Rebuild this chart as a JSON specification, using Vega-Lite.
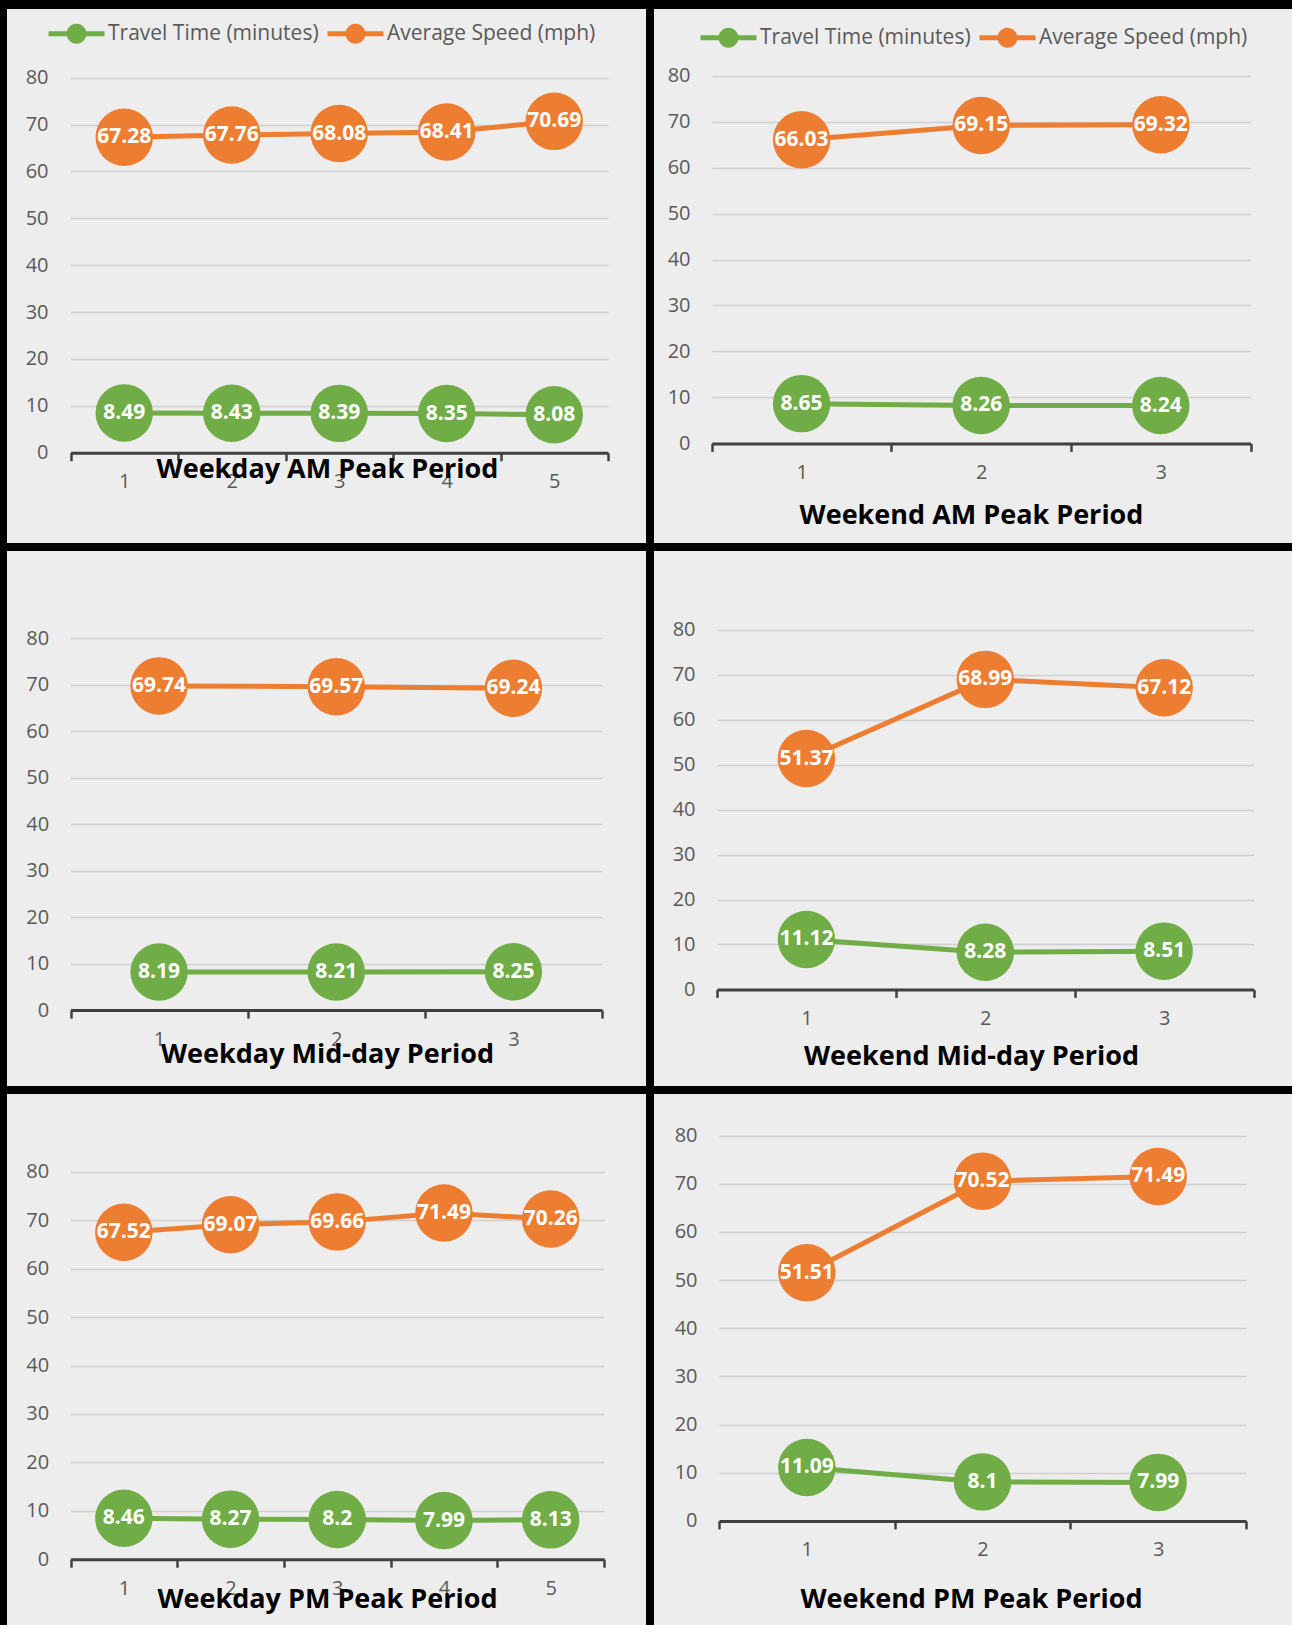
{
  "$schema": "https://vega.github.io/schema/vega-lite/v6.json",
  "background": "black",
  "padding": {"left": 7, "top": 9, "right": 0, "bottom": 0},
  "spacing": 8,
  "data": {"values": [
    {"panel": "wdam", "period": 1, "series": "Travel Time (minutes)", "value": 8.49},
    {"panel": "wdam", "period": 2, "series": "Travel Time (minutes)", "value": 8.43},
    {"panel": "wdam", "period": 3, "series": "Travel Time (minutes)", "value": 8.39},
    {"panel": "wdam", "period": 4, "series": "Travel Time (minutes)", "value": 8.35},
    {"panel": "wdam", "period": 5, "series": "Travel Time (minutes)", "value": 8.08},
    {"panel": "wdam", "period": 1, "series": "Average Speed (mph)", "value": 67.28},
    {"panel": "wdam", "period": 2, "series": "Average Speed (mph)", "value": 67.76},
    {"panel": "wdam", "period": 3, "series": "Average Speed (mph)", "value": 68.08},
    {"panel": "wdam", "period": 4, "series": "Average Speed (mph)", "value": 68.41},
    {"panel": "wdam", "period": 5, "series": "Average Speed (mph)", "value": 70.69},
    {"panel": "weam", "period": 1, "series": "Travel Time (minutes)", "value": 8.65},
    {"panel": "weam", "period": 2, "series": "Travel Time (minutes)", "value": 8.26},
    {"panel": "weam", "period": 3, "series": "Travel Time (minutes)", "value": 8.24},
    {"panel": "weam", "period": 1, "series": "Average Speed (mph)", "value": 66.03},
    {"panel": "weam", "period": 2, "series": "Average Speed (mph)", "value": 69.15},
    {"panel": "weam", "period": 3, "series": "Average Speed (mph)", "value": 69.32},
    {"panel": "wdmid", "period": 1, "series": "Travel Time (minutes)", "value": 8.19},
    {"panel": "wdmid", "period": 2, "series": "Travel Time (minutes)", "value": 8.21},
    {"panel": "wdmid", "period": 3, "series": "Travel Time (minutes)", "value": 8.25},
    {"panel": "wdmid", "period": 1, "series": "Average Speed (mph)", "value": 69.74},
    {"panel": "wdmid", "period": 2, "series": "Average Speed (mph)", "value": 69.57},
    {"panel": "wdmid", "period": 3, "series": "Average Speed (mph)", "value": 69.24},
    {"panel": "wemid", "period": 1, "series": "Travel Time (minutes)", "value": 11.12},
    {"panel": "wemid", "period": 2, "series": "Travel Time (minutes)", "value": 8.28},
    {"panel": "wemid", "period": 3, "series": "Travel Time (minutes)", "value": 8.51},
    {"panel": "wemid", "period": 1, "series": "Average Speed (mph)", "value": 51.37},
    {"panel": "wemid", "period": 2, "series": "Average Speed (mph)", "value": 68.99},
    {"panel": "wemid", "period": 3, "series": "Average Speed (mph)", "value": 67.12},
    {"panel": "wdpm", "period": 1, "series": "Travel Time (minutes)", "value": 8.46},
    {"panel": "wdpm", "period": 2, "series": "Travel Time (minutes)", "value": 8.27},
    {"panel": "wdpm", "period": 3, "series": "Travel Time (minutes)", "value": 8.2},
    {"panel": "wdpm", "period": 4, "series": "Travel Time (minutes)", "value": 7.99},
    {"panel": "wdpm", "period": 5, "series": "Travel Time (minutes)", "value": 8.13},
    {"panel": "wdpm", "period": 1, "series": "Average Speed (mph)", "value": 67.52},
    {"panel": "wdpm", "period": 2, "series": "Average Speed (mph)", "value": 69.07},
    {"panel": "wdpm", "period": 3, "series": "Average Speed (mph)", "value": 69.66},
    {"panel": "wdpm", "period": 4, "series": "Average Speed (mph)", "value": 71.49},
    {"panel": "wdpm", "period": 5, "series": "Average Speed (mph)", "value": 70.26},
    {"panel": "wepm", "period": 1, "series": "Travel Time (minutes)", "value": 11.09},
    {"panel": "wepm", "period": 2, "series": "Travel Time (minutes)", "value": 8.1},
    {"panel": "wepm", "period": 3, "series": "Travel Time (minutes)", "value": 7.99},
    {"panel": "wepm", "period": 1, "series": "Average Speed (mph)", "value": 51.51},
    {"panel": "wepm", "period": 2, "series": "Average Speed (mph)", "value": 70.52},
    {"panel": "wepm", "period": 3, "series": "Average Speed (mph)", "value": 71.49}
  ]},
  "vconcat": [
    {"spacing": 8,
     "resolve": {"scale": {"x": "independent", "y": "independent", "color": "independent"}, "legend": {"color": "independent"}},
     "hconcat": [
      {
        "width": 639, "height": 534,
        "transform": [{"filter": "datum.panel === 'wdam'"}],
        "encoding": {
          "x": {"field": "period", "type": "quantitative",
            "scale": {"domain": [0.5, 5.5], "range": [63.5, 601], "nice": false, "zero": false},
            "axis": {"values": [0.5, 1, 1.5, 2, 2.5, 3, 3.5, 4, 4.5, 5, 5.5], "offset": -90.3,
              "labelExpr": "datum.value % 1 === 0 ? format(datum.value, 'd') : ''",
              "tickOpacity": {"condition": {"test": "datum.value % 1 === 0", "value": 0}, "value": 1},
              "title": "Weekday AM Peak Period", "titleX": 320, "titleY": 16.6}},
          "y": {"field": "value", "type": "quantitative",
            "scale": {"domain": [0, 80], "range": [443.7, 68.7], "nice": false, "zero": false},
            "axis": {"values": [0, 10, 20, 30, 40, 50, 60, 70, 80], "offset": -41, "title": null}},
          "color": {"field": "series", "type": "nominal",
            "scale": {"domain": ["Travel Time (minutes)", "Average Speed (mph)"], "range": ["#70ad47", "#ed7d31"]},
            "legend": {"orient": "none", "legendX": 59, "legendY": 14}}
        },
        "layer": [
          {"mark": {"type": "line", "strokeWidth": 5}},
          {"mark": {"type": "point", "filled": true, "size": 3300, "opacity": 1}},
          {"mark": {"type": "text", "fontWeight": "bold", "fontSize": 21}, "encoding": {"text": {"field": "value", "type": "quantitative"}, "color": {"value": "white"}}}
        ]
      },
      {
        "width": 638, "height": 534,
        "transform": [{"filter": "datum.panel === 'weam'"}],
        "encoding": {
          "x": {"field": "period", "type": "quantitative",
            "scale": {"domain": [0.5, 3.5], "range": [57.8, 596.6], "nice": false, "zero": false},
            "axis": {"values": [0.5, 1, 1.5, 2, 2.5, 3, 3.5], "offset": -99.6,
              "labelExpr": "datum.value % 1 === 0 ? format(datum.value, 'd') : ''",
              "tickOpacity": {"condition": {"test": "datum.value % 1 === 0", "value": 0}, "value": 1},
              "title": "Weekend AM Peak Period", "titleX": 317, "titleY": 71.6}},
          "y": {"field": "value", "type": "quantitative",
            "scale": {"domain": [0, 80], "range": [434.4, 66.6], "nice": false, "zero": false},
            "axis": {"values": [0, 10, 20, 30, 40, 50, 60, 70, 80], "offset": -36, "title": null}},
          "color": {"field": "series", "type": "nominal",
            "scale": {"domain": ["Travel Time (minutes)", "Average Speed (mph)"], "range": ["#70ad47", "#ed7d31"]},
            "legend": {"orient": "none", "legendX": 64, "legendY": 18}}
        },
        "layer": [
          {"mark": {"type": "line", "strokeWidth": 5}},
          {"mark": {"type": "point", "filled": true, "size": 3300, "opacity": 1}},
          {"mark": {"type": "text", "fontWeight": "bold", "fontSize": 21}, "encoding": {"text": {"field": "value", "type": "quantitative"}, "color": {"value": "white"}}}
        ]
      }
    ]},
    {"spacing": 8,
     "resolve": {"scale": {"x": "independent", "y": "independent", "color": "independent"}, "legend": {"color": "independent"}},
     "hconcat": [
      {
        "width": 639, "height": 535,
        "transform": [{"filter": "datum.panel === 'wdmid'"}],
        "encoding": {
          "x": {"field": "period", "type": "quantitative",
            "scale": {"domain": [0.5, 3.5], "range": [63.5, 595], "nice": false, "zero": false},
            "axis": {"values": [0.5, 1, 1.5, 2, 2.5, 3, 3.5], "offset": -75.9,
              "labelExpr": "datum.value % 1 === 0 ? format(datum.value, 'd') : ''",
              "tickOpacity": {"condition": {"test": "datum.value % 1 === 0", "value": 0}, "value": 1},
              "title": "Weekday Mid-day Period", "titleX": 320, "titleY": 44.6}},
          "y": {"field": "value", "type": "quantitative",
            "scale": {"domain": [0, 80], "range": [459.1, 87.2], "nice": false, "zero": false},
            "axis": {"values": [0, 10, 20, 30, 40, 50, 60, 70, 80], "offset": -41.7, "title": null}},
          "color": {"field": "series", "type": "nominal",
            "scale": {"domain": ["Travel Time (minutes)", "Average Speed (mph)"], "range": ["#70ad47", "#ed7d31"]},
            "legend": null}
        },
        "layer": [
          {"mark": {"type": "line", "strokeWidth": 5}},
          {"mark": {"type": "point", "filled": true, "size": 3300, "opacity": 1}},
          {"mark": {"type": "text", "fontWeight": "bold", "fontSize": 21}, "encoding": {"text": {"field": "value", "type": "quantitative"}, "color": {"value": "white"}}}
        ]
      },
      {
        "width": 638, "height": 535,
        "transform": [{"filter": "datum.panel === 'wemid'"}],
        "encoding": {
          "x": {"field": "period", "type": "quantitative",
            "scale": {"domain": [0.5, 3.5], "range": [63, 599.6], "nice": false, "zero": false},
            "axis": {"values": [0.5, 1, 1.5, 2, 2.5, 3, 3.5], "offset": -96.6,
              "labelExpr": "datum.value % 1 === 0 ? format(datum.value, 'd') : ''",
              "tickOpacity": {"condition": {"test": "datum.value % 1 === 0", "value": 0}, "value": 1},
              "title": "Weekend Mid-day Period", "titleX": 317, "titleY": 67.4}},
          "y": {"field": "value", "type": "quantitative",
            "scale": {"domain": [0, 80], "range": [438.4, 78.9], "nice": false, "zero": false},
            "axis": {"values": [0, 10, 20, 30, 40, 50, 60, 70, 80], "offset": -41, "title": null}},
          "color": {"field": "series", "type": "nominal",
            "scale": {"domain": ["Travel Time (minutes)", "Average Speed (mph)"], "range": ["#70ad47", "#ed7d31"]},
            "legend": null}
        },
        "layer": [
          {"mark": {"type": "line", "strokeWidth": 5}},
          {"mark": {"type": "point", "filled": true, "size": 3300, "opacity": 1}},
          {"mark": {"type": "text", "fontWeight": "bold", "fontSize": 21}, "encoding": {"text": {"field": "value", "type": "quantitative"}, "color": {"value": "white"}}}
        ]
      }
    ]},
    {"spacing": 8,
     "resolve": {"scale": {"x": "independent", "y": "independent", "color": "independent"}, "legend": {"color": "independent"}},
     "hconcat": [
      {
        "width": 639, "height": 531,
        "transform": [{"filter": "datum.panel === 'wdpm'"}],
        "encoding": {
          "x": {"field": "period", "type": "quantitative",
            "scale": {"domain": [0.5, 5.5], "range": [63.5, 597], "nice": false, "zero": false},
            "axis": {"values": [0.5, 1, 1.5, 2, 2.5, 3, 3.5, 4, 4.5, 5, 5.5], "offset": -65.8,
              "labelExpr": "datum.value % 1 === 0 ? format(datum.value, 'd') : ''",
              "tickOpacity": {"condition": {"test": "datum.value % 1 === 0", "value": 0}, "value": 1},
              "title": "Weekday PM Peak Period", "titleX": 320, "titleY": 40.5}},
          "y": {"field": "value", "type": "quantitative",
            "scale": {"domain": [0, 80], "range": [465.2, 77.8], "nice": false, "zero": false},
            "axis": {"values": [0, 10, 20, 30, 40, 50, 60, 70, 80], "offset": -41.7, "title": null}},
          "color": {"field": "series", "type": "nominal",
            "scale": {"domain": ["Travel Time (minutes)", "Average Speed (mph)"], "range": ["#70ad47", "#ed7d31"]},
            "legend": null}
        },
        "layer": [
          {"mark": {"type": "line", "strokeWidth": 5}},
          {"mark": {"type": "point", "filled": true, "size": 3300, "opacity": 1}},
          {"mark": {"type": "text", "fontWeight": "bold", "fontSize": 21}, "encoding": {"text": {"field": "value", "type": "quantitative"}, "color": {"value": "white"}}}
        ]
      },
      {
        "width": 638, "height": 531,
        "transform": [{"filter": "datum.panel === 'wepm'"}],
        "encoding": {
          "x": {"field": "period", "type": "quantitative",
            "scale": {"domain": [0.5, 3.5], "range": [65, 592], "nice": false, "zero": false},
            "axis": {"values": [0.5, 1, 1.5, 2, 2.5, 3, 3.5], "offset": -104.1,
              "labelExpr": "datum.value % 1 === 0 ? format(datum.value, 'd') : ''",
              "tickOpacity": {"condition": {"test": "datum.value % 1 === 0", "value": 0}, "value": 1},
              "title": "Weekend PM Peak Period", "titleX": 317, "titleY": 78.8}},
          "y": {"field": "value", "type": "quantitative",
            "scale": {"domain": [0, 80], "range": [426.9, 41.5], "nice": false, "zero": false},
            "axis": {"values": [0, 10, 20, 30, 40, 50, 60, 70, 80], "offset": -43, "title": null}},
          "color": {"field": "series", "type": "nominal",
            "scale": {"domain": ["Travel Time (minutes)", "Average Speed (mph)"], "range": ["#70ad47", "#ed7d31"]},
            "legend": null}
        },
        "layer": [
          {"mark": {"type": "line", "strokeWidth": 5}},
          {"mark": {"type": "point", "filled": true, "size": 3300, "opacity": 1}},
          {"mark": {"type": "text", "fontWeight": "bold", "fontSize": 21}, "encoding": {"text": {"field": "value", "type": "quantitative"}, "color": {"value": "white"}}}
        ]
      }
    ]}
  ],
  "resolve": {"scale": {"x": "independent", "y": "independent", "color": "independent"}, "legend": {"color": "independent"}},
  "config": {
    "font": "Open Sans",
    "view": {"fill": "#ededed", "stroke": null},
    "axisX": {
      "orient": "bottom", "grid": false,
      "domainColor": "#404040", "domainWidth": 3,
      "tickColor": "#404040", "tickWidth": 2.5, "tickSize": 8,
      "labelPadding": 11, "labelFontSize": 20, "labelColor": "#595959", "labelFont": "Open Sans",
      "labelOverlap": false, "labelFlush": false,
      "titleFont": "Open Sans", "titleFontSize": 27, "titleFontWeight": "bold", "titleColor": "black",
      "titleBaseline": "middle", "titleAlign": "center", "titleAngle": 0
    },
    "axisY": {
      "domain": false, "ticks": false, "tickSize": 0, "labelPadding": 0,
      "labelFontSize": 20, "labelColor": "#595959", "labelFont": "Open Sans",
      "labelFlush": false, "labelOverlap": false,
      "grid": true, "gridColor": "#cfcfcf", "gridWidth": 1.5
    },
    "legend": {
      "direction": "horizontal", "title": null,
      "symbolType": "M-2.8,-0.25L2.8,-0.25L2.8,0.25L-2.8,0.25Z M1,0A1,1,0,1,1,-1,0A1,1,0,1,1,1,0Z",
      "symbolSize": 400, "symbolStrokeWidth": 0, "symbolOpacity": 1,
      "labelOffset": 21, "columnPadding": 8, "labelLimit": 400,
      "labelFontSize": 21, "labelColor": "#595959", "labelFont": "Open Sans"
    }
  }
}
